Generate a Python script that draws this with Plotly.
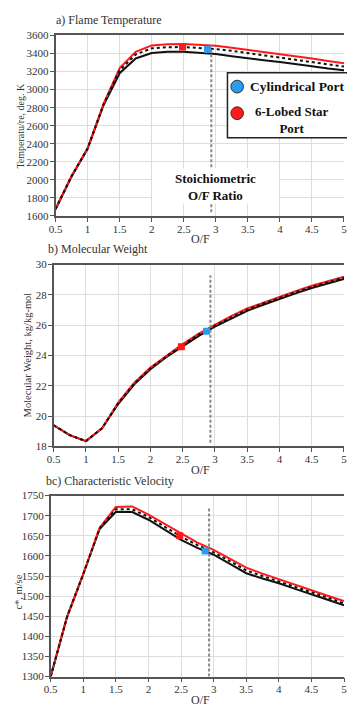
import plotly.graph_objects as go

# ---------------- data ----------------
of_ratio = [0.5, 0.75, 1.0, 1.25, 1.5, 1.75, 2.0, 2.25, 2.5, 2.75, 3.0, 3.25, 3.5, 3.75, 4.0, 4.25, 4.5, 4.75, 5.0]

temp_black = [1673, 2036, 2345, 2830, 3182, 3345, 3405, 3420, 3420, 3410, 3395, 3370, 3345, 3325, 3305, 3285, 3260, 3235, 3215]
temp_dot   = [1676, 2040, 2347, 2838, 3215, 3390, 3458, 3470, 3472, 3465, 3450, 3430, 3405, 3382, 3360, 3335, 3310, 3283, 3255]
temp_red   = [1680, 2045, 2350, 2845, 3240, 3420, 3490, 3503, 3505, 3498, 3485, 3465, 3442, 3418, 3395, 3370, 3345, 3318, 3292]

mw_black = [19.4, 18.75, 18.35, 19.2, 20.8, 22.1, 23.1, 23.9, 24.6, 25.3, 25.9, 26.45, 26.95, 27.35, 27.75, 28.1, 28.45, 28.75, 29.05]
mw_dot   = [19.4, 18.75, 18.35, 19.2, 20.85, 22.15, 23.15, 23.95, 24.68, 25.38, 25.98, 26.53, 27.03, 27.43, 27.83, 28.18, 28.53, 28.83, 29.13]
mw_red   = [19.4, 18.75, 18.35, 19.2, 20.9, 22.2, 23.2, 24.0, 24.75, 25.45, 26.05, 26.6, 27.1, 27.5, 27.9, 28.25, 28.6, 28.9, 29.2]

cstar_black = [1300, 1448, 1555, 1667, 1710, 1709, 1690, 1665, 1640, 1620, 1603, 1580, 1557, 1544, 1532, 1518, 1505, 1491, 1477]
cstar_dot   = [1300, 1448, 1555, 1668, 1716, 1716, 1697, 1672, 1648, 1627, 1609, 1587, 1564, 1550, 1537, 1523, 1510, 1496, 1482]
cstar_red   = [1300, 1448, 1555, 1670, 1722, 1723, 1703, 1680, 1655, 1633, 1615, 1593, 1571, 1556, 1542, 1528, 1515, 1501, 1488]

# design points: [cylindrical port, 6-lobed star port]
point_of = [2.87, 2.48]
point_temp = [3444, 3473]
point_mw = [25.6, 24.57]
point_cstar = [1612, 1650]

stoich_of = 2.93

panel_titles = ["a) Flame Temperature", "b) Molecular Weight", "bc) Characteristic Velocity"]
y_titles = ["Temperatu/re, deg. K", "Molecular Weight, kg/kg-mol", "c*, m/se"]
legend_names = ["Cylindrical Port", "6-Lobed Star Port"]

# ---------------- layout helpers ----------------
W, H = 347, 713
def px(x):
    return x / W
def py(y):
    return 1 - y / H

SERIF = "Liberation Serif"
RED = "#ff1a1a"
BLUE = "#2b9bf0"
BLACK = "#111111"

fig = go.Figure()

panels = [
    (temp_black, temp_dot, temp_red, point_temp, "", ""),
    (mw_black, mw_dot, mw_red, point_mw, "2", "2"),
    (cstar_black, cstar_dot, cstar_red, point_cstar, "3", "3"),
]

for blk, dot, red, pts, xs, ys in panels:
    xa = "x" + xs
    ya = "y" + ys
    fig.add_trace(go.Scatter(x=of_ratio, y=blk, mode="lines", xaxis=xa, yaxis=ya,
                             line=dict(color=BLACK, width=2), showlegend=False, hoverinfo="skip"))
    fig.add_trace(go.Scatter(x=of_ratio, y=red, mode="lines", xaxis=xa, yaxis=ya,
                             line=dict(color=RED, width=2), showlegend=False, hoverinfo="skip"))
    fig.add_trace(go.Scatter(x=of_ratio, y=dot, mode="lines", xaxis=xa, yaxis=ya,
                             line=dict(color=BLACK, width=2, dash="3px,3px"), showlegend=False, hoverinfo="skip"))
    fig.add_trace(go.Scatter(x=point_of, y=pts, mode="markers", xaxis=xa, yaxis=ya,
                             marker=dict(symbol="square", size=7, color=[BLUE, RED]),
                             showlegend=False, hoverinfo="skip"))

# axes
domains_x = [[50 / W, 1.0], [48 / W, 1.0], [45 / W, 1.0]]
domains_y = [[py(213.5), py(30)], [py(448), py(263)], [py(682), py(498)]]
yranges = [[1600, 3600], [18, 30], [1300, 1750]]
ydticks = [200, 2, 50]

axis_common = dict(showline=True, linecolor="#555555", linewidth=1.5, ticks="outside", ticklen=4,
                   tickcolor="#555555", showgrid=True, gridcolor="#dddddd", gridwidth=1,
                   zeroline=False, tickfont=dict(family=SERIF, size=11, color="#333333"))

layout_axes = {}
for i in range(3):
    s = "" if i == 0 else str(i + 1)
    layout_axes["xaxis" + s] = dict(domain=domains_x[i], range=[0.5, 5.0], dtick=0.5, tick0=0.5,
                                   anchor="y" + s, mirror=True, ticklabelstandoff=-2,
                                   ticklabeloverflow="allow", **axis_common)
    layout_axes["yaxis" + s] = dict(domain=domains_y[i], range=yranges[i], dtick=ydticks[i],
                                   anchor="x" + s, ticklabelstandoff=-1, **axis_common)

# stoichiometric lines
stoich_spans = [(1640, 3500, "x", "y"), (18.25, 29.3, "x2", "y2"), (1300, 1720, "x3", "y3")]
shapes = []
for y0, y1, xr, yr in stoich_spans:
    shapes.append(dict(type="line", xref=xr, yref=yr, x0=stoich_of, x1=stoich_of, y0=y0, y1=y1,
                       line=dict(color="#888888", width=2, dash="3px,2px"), layer="above"))

# white box behind the stoichiometric label
shapes.append(dict(type="rect", xref="paper", yref="paper", x0=px(150), x1=px(280), y0=py(201), y1=py(165),
                   line=dict(width=0), fillcolor="white", layer="above"))

# legend box
shapes.append(dict(type="rect", xref="paper", yref="paper", x0=px(227), x1=px(360), y0=py(134), y1=py(68),
                   line=dict(color="#222222", width=1.5), fillcolor="white", layer="above"))
for (cx, cy), col in zip([(237, 82), (237, 109)], [BLUE, RED]):
    r = 6.5
    shapes.append(dict(type="circle", xref="paper", yref="paper", x0=px(cx - r), x1=px(cx + r),
                       y0=py(cy + r), y1=py(cy - r), fillcolor=col, line=dict(color="#333333", width=1),
                       layer="above"))

annotations = []
# panel titles
for t, (x, y) in zip(panel_titles, [(48, 14), (40, 247), (38, 483)]):
    annotations.append(dict(text=t, x=px(x), y=py(y), xref="paper", yref="paper", xanchor="left",
                            yanchor="middle", showarrow=False, font=dict(family=SERIF, size=12, color="#333333")))
# x axis titles
for y in [237, 472, 706]:
    annotations.append(dict(text="O/F", x=px(199), y=py(y), xref="paper", yref="paper", xanchor="center",
                            yanchor="middle", showarrow=False, font=dict(family=SERIF, size=12, color="#333333")))
# y axis titles
for t, (x, y), fs in zip(y_titles, [(14, 122), (21, 355), (12, 596)], [10, 10.5, 10.5]):
    annotations.append(dict(text=t, x=px(x), y=py(y), xref="paper", yref="paper", xanchor="center",
                            yanchor="middle", textangle=-90, showarrow=False,
                            font=dict(family=SERIF, size=fs, color="#333333")))
# stoichiometric label (one two-line text)
annotations.append(dict(text="<b>Stoichiometric<br>O/F Ratio</b>", x=px(215), y=py(184), xref="paper",
                        yref="paper", xanchor="center", yanchor="middle", showarrow=False,
                        font=dict(family=SERIF, size=13, color="#111111")))
# legend texts
annotations.append(dict(text="<b>" + legend_names[0] + "</b>", x=px(248), y=py(82), xref="paper", yref="paper",
                        xanchor="left", yanchor="middle", showarrow=False,
                        font=dict(family=SERIF, size=13.5, color="#111111")))
annotations.append(dict(text="<b>6-Lobed Star<br>Port</b>", x=px(293), y=py(116), xref="paper", yref="paper",
                        xanchor="center", yanchor="middle", showarrow=False,
                        font=dict(family=SERIF, size=13, color="#111111")))

fig.update_layout(
    width=W, height=H,
    margin=dict(l=0, r=0, t=0, b=0),
    paper_bgcolor="white", plot_bgcolor="white",
    showlegend=False,
    shapes=shapes,
    annotations=annotations,
    **layout_axes,
)

fig.write_html("out.html", config={"displayModeBar": False})
